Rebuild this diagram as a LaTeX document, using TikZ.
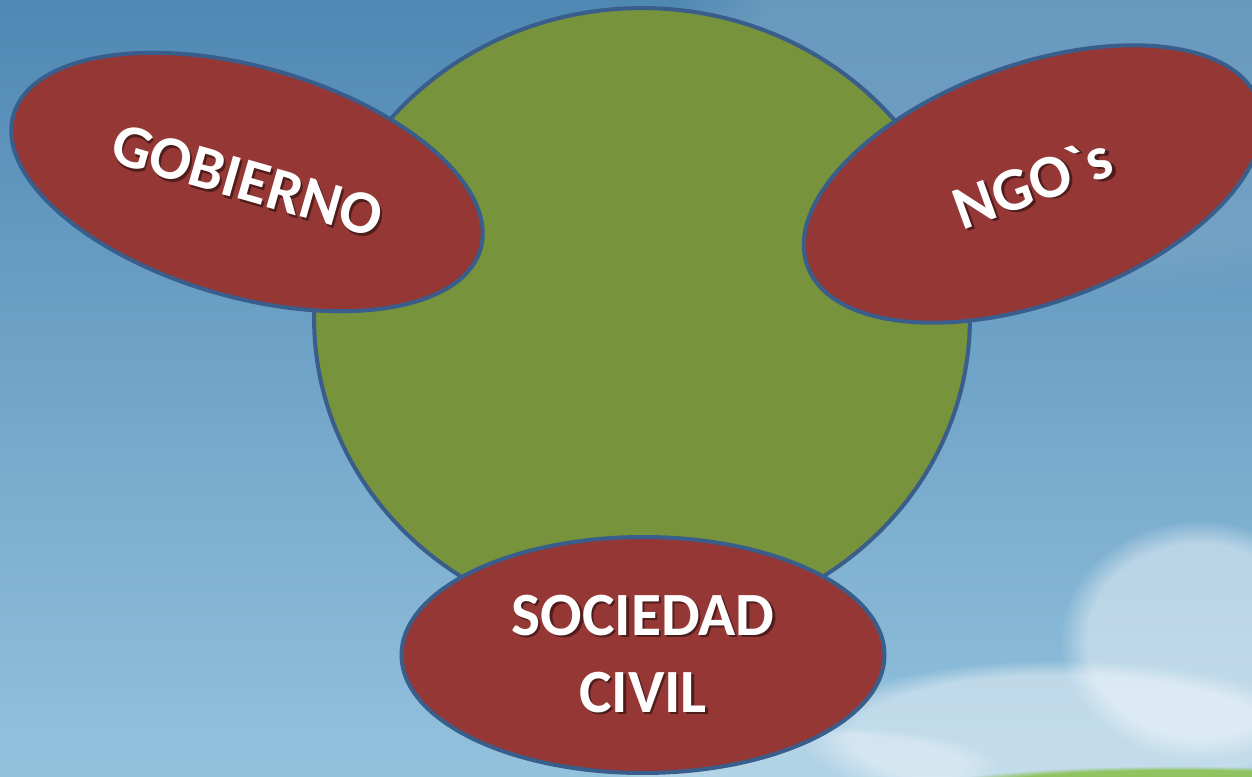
\documentclass[tikz,border=0pt]{standalone}
\usepackage{fontspec}
\newfontfamily\boxfont{Carlito}
\usetikzlibrary{
  shapes.geometric,
  fadings,
  positioning
}
\definecolor{skytop}{HTML}{5088B4}
\definecolor{skybot}{HTML}{93C2DD}
\definecolor{skyhaze}{HTML}{7FA9C8}
\definecolor{rimblue}{HTML}{3A5E8C}
\definecolor{boxred}{HTML}{953735}
\definecolor{boxgreen}{HTML}{77933C}
\definecolor{grass}{HTML}{8CC152}
\definecolor{shadowcol}{HTML}{4E1D1C}
\newcommand\shd[1]{\leavevmode\rlap{\hspace{1.4pt}\raisebox{-1.4pt}{\color{shadowcol}#1}}#1}
\tikzset{
  redbox/.style={ellipse,draw=rimblue,line width=2.3pt,fill=boxred,inner sep=0pt,
    text=white,font=\boxfont\fontsize{35}{44}\selectfont\bfseries,align=center},
  cloud/.style={fill=white,path fading=circle with fuzzy edge 20 percent}
}
\begin{document}
\begin{tikzpicture}[x=0.02cm,y=-0.02cm]
		\useasboundingbox (0,0) rectangle (1252,777);
		% sky
		\fill[top color=skytop,bottom color=skybot] (0,0) rectangle (1252,777);
		\fill[skyhaze,opacity=0.5,path fading=circle with fuzzy edge 20 percent] (1120,60) ellipse (460 and 240);
		\fill[cloud,opacity=0.45] (1200,640) ellipse (140 and 120);
		\fill[cloud,opacity=0.45] (1060,735) ellipse (260 and 75);
		\fill[cloud,opacity=0.3] (800,765) ellipse (200 and 40);
		\fill[grass,opacity=0.9,path fading=circle with fuzzy edge 20 percent] (1180,786) ellipse (240 and 20);

		\node[ellipse,draw=rimblue,line width=2.3pt,fill=boxgreen,minimum width=13.12cm,minimum height=12.4cm] (1) at (642,318) {};
		\node[redbox,rotate=-16,minimum width=9.72cm,minimum height=4.6cm] (2) at (247,182) {\shd{GOBIERNO}};
		\node[redbox,rotate=20,minimum width=9.6cm,minimum height=4.76cm] (3) at (1033,184) {\shd{NGO`s}};
		\node[redbox,minimum width=9.66cm,minimum height=4.72cm] (4) at (643,655) {\shd{SOCIEDAD}\\\shd{CIVIL}};
	\end{tikzpicture}
\end{document}
